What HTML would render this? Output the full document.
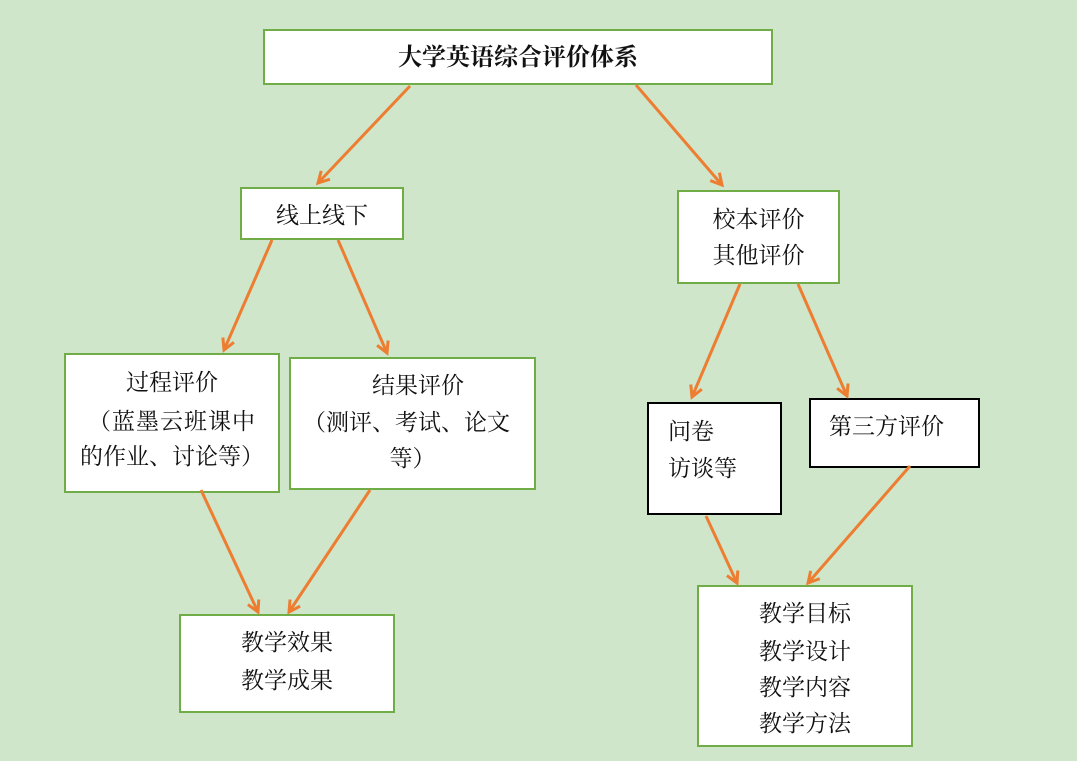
<!DOCTYPE html>
<html><head><meta charset="utf-8"><style>
body{margin:0;width:1077px;height:761px;background:#cfe6ca;position:relative;overflow:hidden;font-family:"Liberation Serif","Noto Serif CJK SC",serif;color:#111;}
.b{position:absolute;background:#fff;border:2px solid #70ad47;box-sizing:border-box;}
.k{border-color:#000;}
.t{position:absolute;font-size:23px;line-height:28px;white-space:nowrap;margin-top:2px;}
svg{position:absolute;left:0;top:0;}
</style></head><body>
<div class="b" style="left:263px;top:29px;width:510px;height:56px"></div>
<div class="b" style="left:240px;top:187px;width:164px;height:53px"></div>
<div class="b" style="left:677px;top:190px;width:163px;height:94px"></div>
<div class="b" style="left:64px;top:353px;width:216px;height:140px"></div>
<div class="b" style="left:289px;top:357px;width:247px;height:133px"></div>
<div class="b k" style="left:647px;top:402px;width:135px;height:113px"></div>
<div class="b k" style="left:809px;top:398px;width:171px;height:70px"></div>
<div class="b" style="left:179px;top:614px;width:216px;height:99px"></div>
<div class="b" style="left:697px;top:585px;width:216px;height:162px"></div>

<div class="t" style="left:263px;width:510px;top:42px;text-align:center;font-weight:bold;font-size:24px">大学英语综合评价体系</div>
<div class="t" style="left:240px;width:164px;top:200px;text-align:center">线上线下</div>
<div class="t" style="left:677px;width:163px;top:204px;text-align:center">校本评价</div>
<div class="t" style="left:677px;width:163px;top:240px;text-align:center">其他评价</div>
<div class="t" style="left:64px;width:216px;top:367px;text-align:center">过程评价</div>
<div class="t" style="left:64px;width:216px;top:406px;text-align:center;letter-spacing:1px">（蓝墨云班课中</div>
<div class="t" style="left:64px;width:216px;top:441px;text-align:center">的作业、讨论等）</div>
<div class="t" style="left:289px;width:258px;top:370px;text-align:center">结果评价</div>
<div class="t" style="left:303px;top:407px">（测评、考试、论文</div>
<div class="t" style="left:289px;width:247px;top:443px;text-align:center">等）</div>
<div class="t" style="left:668px;top:416px">问卷</div>
<div class="t" style="left:668px;top:453px">访谈等</div>
<div class="t" style="left:829px;top:411px">第三方评价</div>
<div class="t" style="left:179px;width:216px;top:627px;text-align:center">教学效果</div>
<div class="t" style="left:179px;width:216px;top:665px;text-align:center">教学成果</div>
<div class="t" style="left:697px;width:216px;top:598px;text-align:center">教学目标</div>
<div class="t" style="left:697px;width:216px;top:636px;text-align:center">教学设计</div>
<div class="t" style="left:697px;width:216px;top:672px;text-align:center">教学内容</div>
<div class="t" style="left:697px;width:216px;top:708px;text-align:center">教学方法</div>

<svg width="1077" height="761">
<defs><marker id="a" markerWidth="18" markerHeight="18" refX="13" refY="8" orient="auto" markerUnits="userSpaceOnUse">
<polyline points="2,2 13,8 2,14" fill="none" stroke="#ed7d31" stroke-width="3"/></marker></defs>
<g stroke="#ed7d31" stroke-width="3" fill="none" marker-end="url(#a)">
<line x1="410" y1="86" x2="318" y2="183"/>
<line x1="636" y1="85" x2="722" y2="185"/>
<line x1="272" y1="240" x2="224" y2="350"/>
<line x1="338" y1="240" x2="387" y2="353"/>
<line x1="740" y1="284" x2="692" y2="397"/>
<line x1="798" y1="284" x2="847" y2="396"/>
<line x1="201" y1="490" x2="258" y2="612"/>
<line x1="370" y1="490" x2="289" y2="612"/>
<line x1="706" y1="516" x2="737" y2="583"/>
<line x1="910" y1="466" x2="808" y2="583"/>
</g></svg>
</body></html>
